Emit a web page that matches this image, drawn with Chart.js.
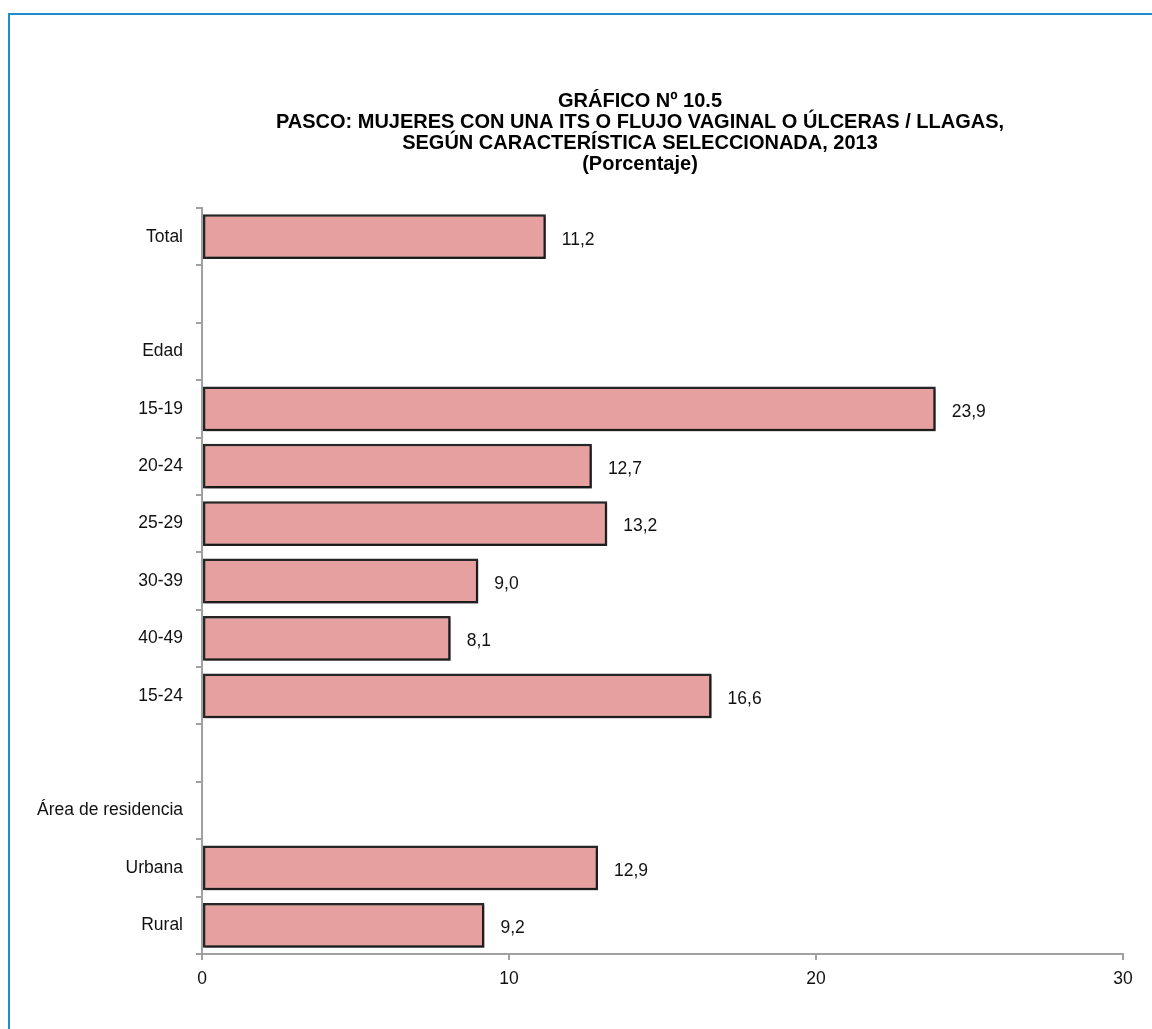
<!DOCTYPE html>
<html>
<head>
<meta charset="utf-8">
<script src="https://cdn.jsdelivr.net/npm/chart.js@4"></script>
<style>
  html, body { margin: 0; padding: 0; background: #fff; overflow: hidden; }
  #marco {
    position: absolute; left: 8px; top: 13px;
    width: 1260px; height: 1100px;
    border: 2px solid #1b8dc8; background: #fff;
  }
  #lienzo { position: absolute; left: 0; top: 0; width: 1260px; height: 1014px; }
</style>
</head>
<body>
<div id="marco"><div id="lienzo"><canvas id="grafico"></canvas></div></div>
<script>
// Datos del gráfico
const categorias = ['Total', '', 'Edad', '15-19', '20-24', '25-29', '30-39', '40-49', '15-24', '', 'Área de residencia', 'Urbana', 'Rural'];
const porcentajes = [11.2, null, null, 23.9, 12.7, 13.2, 9.0, 8.1, 16.6, null, null, 12.9, 9.2];
const ticksX = [0, 10, 20, 30];
const titulo = [
  'GRÁFICO Nº 10.5',
  'PASCO: MUJERES CON UNA ITS O FLUJO VAGINAL O ÚLCERAS / LLAGAS,',
  'SEGÚN CARACTERÍSTICA SELECCIONADA, 2013',
  '(Porcentaje)'
];

const fuente = "'Liberation Sans', Arial, sans-serif";
Chart.defaults.font.family = fuente;
Chart.defaults.color = '#111';

// Título centrado en el marco completo (no en el área del gráfico)
const tituloMarco = {
  id: 'tituloMarco',
  afterDraw(chart) {
    const ctx = chart.ctx;
    ctx.save();
    ctx.font = 'bold 20px ' + fuente;
    ctx.fillStyle = '#000';
    ctx.textAlign = 'center';
    ctx.textBaseline = 'middle';
    titulo.forEach((linea, i) => ctx.fillText(linea, 630, 86 + i * 21));
    ctx.restore();
  }
};

// Etiquetas con el valor al final de cada barra
const etiquetasValor = {
  id: 'etiquetasValor',
  beforeDatasetsDraw(chart) {
    const ctx = chart.ctx;
    ctx.save();
    ctx.shadowColor = 'rgba(0,0,0,0.45)';
    ctx.shadowOffsetX = 1.5;
    ctx.shadowOffsetY = 1.5;
    ctx.shadowBlur = 2;
  },
  afterDatasetsDraw(chart) {
    const ctx = chart.ctx;
    ctx.restore();
    ctx.save();
    ctx.font = '17.5px ' + fuente;
    ctx.fillStyle = '#111';
    ctx.textAlign = 'left';
    ctx.textBaseline = 'middle';
    chart.getDatasetMeta(0).data.forEach((barra, i) => {
      const v = porcentajes[i];
      if (v === null) return;
      ctx.fillText(v.toFixed(1).replace('.', ','), barra.x + 16, barra.y + 3);
    });
    ctx.restore();
  }
};

new Chart(document.getElementById('grafico'), {
  type: 'bar',
  data: {
    labels: categorias,
    datasets: [{
      data: porcentajes,
      backgroundColor: '#e6a09f',
      borderColor: '#262626',
      borderWidth: 2.5,
      borderSkipped: false,
      barPercentage: 0.78,
      categoryPercentage: 1
    }]
  },
  options: {
    indexAxis: 'y',
    responsive: true,
    maintainAspectRatio: false,
    animation: false,
    layout: { padding: { left: 0, right: 147, top: 193, bottom: 0 } },
    plugins: {
      legend: { display: false },
      tooltip: { enabled: false },
      title: { display: false }
    },
    scales: {
      x: {
        min: 0,
        max: 30,
        afterBuildTicks: (eje) => { eje.ticks = ticksX.map(v => ({ value: v })); },
        afterFit: (eje) => { eje.height = 75; },
        grid: { drawOnChartArea: false, drawTicks: true, tickLength: 6, color: '#a0a0a0', lineWidth: 2 },
        border: { color: '#a0a0a0', width: 2 },
        ticks: { color: '#111', font: { size: 17.5 }, padding: 9 }
      },
      y: {
        afterFit: (eje) => { eje.width = 192; },
        grid: { offset: true, drawOnChartArea: false, drawTicks: true, tickLength: 6, color: '#a0a0a0', lineWidth: 2 },
        border: { color: '#a0a0a0', width: 2 },
        ticks: { color: '#111', font: { size: 17.5 }, padding: 13 }
      }
    }
  },
  plugins: [etiquetasValor, tituloMarco]
});
</script>
</body>
</html>
